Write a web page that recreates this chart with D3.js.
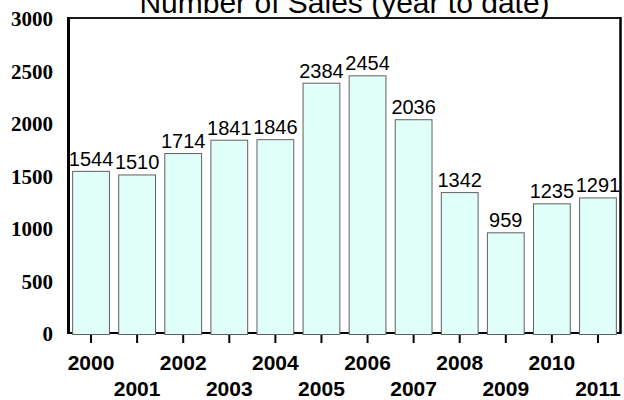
<!DOCTYPE html>
<html>
<head>
<meta charset="utf-8">
<script src="https://cdn.jsdelivr.net/npm/d3@7"></script>
<style>
  body { margin: 0; background: #fff; }
  svg { display: block; }
</style>
</head>
<body>
<div id="chart"></div>
<script>
/* Sales per year */
var years = ["2000", "2001", "2002", "2003", "2004", "2005",
             "2006", "2007", "2008", "2009", "2010", "2011"];
var sales = [1544, 1510, 1714, 1841, 1846, 2384, 2454, 2036, 1342, 959, 1235, 1291];
var yTicks = [0, 500, 1000, 1500, 2000, 2500, 3000];
var title = "Number of Sales (year to date)";

(function() {
  var W = 624, H = 400;
  var left = 68, right = 621, top = 18, bottom = 333;

  var svg = d3.select("#chart").append("svg")
    .attr("width", W)
    .attr("height", H);

  var x = d3.scaleBand()
    .domain(years)
    .range([left, right])
    .paddingInner(0.18)
    .paddingOuter(0.09);

  var y = d3.scaleLinear()
    .domain([0, 3000])
    .range([bottom, top]);

  // title (partly cut off at the top, as in the original)
  svg.append("text")
    .attr("x", (left + right) / 2)
    .attr("y", 13)
    .attr("text-anchor", "middle")
    .style("font-family", "'Liberation Sans', Arial, sans-serif")
    .style("font-size", "30px")
    .style("fill", "#000")
    .text(title);

  // frame: top, left, right, bottom
  svg.append("line")
    .attr("x1", left).attr("x2", right)
    .attr("y1", y(3000)).attr("y2", y(3000))
    .style("stroke", "#1a1a1a").style("stroke-width", 2);
  svg.append("line")
    .attr("x1", left + 0.5).attr("x2", left + 0.5)
    .attr("y1", y(3000) - 1).attr("y2", bottom + 1)
    .style("stroke", "#000").style("stroke-width", 3);
  svg.append("line")
    .attr("x1", right - 0.5).attr("x2", right - 0.5)
    .attr("y1", y(3000) - 1).attr("y2", bottom + 1)
    .style("stroke", "#000").style("stroke-width", 2.5);
  svg.append("line")
    .attr("x1", left).attr("x2", right)
    .attr("y1", bottom).attr("y2", bottom)
    .style("stroke", "#000").style("stroke-width", 2);

  // y axis labels
  var yAxis = svg.append("g")
    .attr("transform", "translate(" + left + ",0)")
    .call(d3.axisLeft(y).tickValues(yTicks).tickFormat(d3.format("d"))
      .tickSize(0).tickPadding(15));
  yAxis.select(".domain").remove();
  yAxis.selectAll("text")
    .attr("dy", "0.36em")
    .style("font-family", "'Liberation Serif', 'Times New Roman', serif")
    .style("font-weight", "bold")
    .style("font-size", "21px")
    .style("fill", "#000");

  // x axis ticks and two rows of year labels
  var xAxis = svg.append("g")
    .attr("transform", "translate(0," + bottom + ")")
    .call(d3.axisBottom(x).tickSizeInner(10).tickSizeOuter(0));
  xAxis.select(".domain").remove();
  xAxis.selectAll(".tick line")
    .style("stroke", "#000").style("stroke-width", 2);
  xAxis.selectAll("text")
    .attr("y", function(d, i) { return i % 2 ? 63 : 37; })
    .attr("dy", 0)
    .style("font-family", "'Liberation Sans', Arial, sans-serif")
    .style("font-weight", "bold")
    .style("font-size", "21px")
    .style("fill", "#000");

  // bars
  svg.selectAll("rect.bar")
    .data(sales)
    .enter().append("rect")
    .attr("class", "bar")
    .attr("x", function(d, i) { return x(years[i]) + 0.5; })
    .attr("y", function(d) { return y(d) + 0.5; })
    .attr("width", x.bandwidth() - 1)
    .attr("height", function(d) { return bottom + 1 - y(d); })
    .style("fill", "#e0fff8")
    .style("stroke", "#606060")
    .style("stroke-width", 1);

  // value labels
  svg.selectAll("text.val")
    .data(sales)
    .enter().append("text")
    .attr("class", "val")
    .attr("x", function(d, i) { return x(years[i]) + x.bandwidth() / 2; })
    .attr("y", function(d) { return y(d) - 5; })
    .attr("text-anchor", "middle")
    .style("font-family", "'Liberation Sans', Arial, sans-serif")
    .style("font-size", "20px")
    .style("fill", "#000")
    .text(function(d) { return d; });
})();
</script>
</body>
</html>
